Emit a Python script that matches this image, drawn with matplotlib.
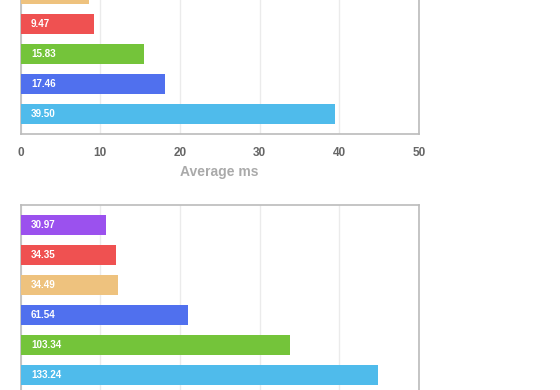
import matplotlib
matplotlib.use("Agg")
import matplotlib.pyplot as plt

# top panel (Average ms), bottom to top; bar lengths as drawn, labels as printed
top_values = [39.4, 18.1, 15.47, 9.18, 8.55]
top_labels = ['39.50', '17.46', '15.83', '9.47', '']
top_colors = ['#4fbbeb', '#5070ee', '#74c43a', '#ef5151', '#eec27e']

# bottom panel, bottom to top
bot_values = [134.4, 101.3, 63.0, 36.7, 35.9, 32.1]
bot_labels = ['133.24', '103.34', '61.54', '34.49', '34.35', '30.97']
bot_colors = ['#4fbbeb', '#74c43a', '#5070ee', '#eec27e', '#ef5151', '#9b51ee']

plt.rcParams['font.family'] = ['Liberation Sans', 'DejaVu Sans']

W, H = 560, 390
fig = plt.figure(figsize=(W / 100, H / 100), dpi=100)

def panel(rect, values, colors, labels, xmax, step, xlabel=None, ticklabels=True):
    ax = fig.add_axes(rect)
    n = 6
    ys = list(range(len(values)))
    ax.barh(ys, values, height=2 / 3, color=colors, zorder=3)
    px = xmax / (rect[2] * W)
    for y, lab in zip(ys, labels):
        ax.text(10.5 * px, y, lab, color='white', fontsize=7.1, fontweight='bold',
                va='center', ha='left', zorder=4)
    ax.set_xlim(0, xmax)
    ax.set_ylim(-2 / 3, n - 1 + 2 / 3)
    ax.set_xticks(range(0, xmax + 1, step))
    ax.set_yticks([])
    ax.grid(axis='x', color='#ebebeb', linewidth=1, zorder=0)
    for s in ax.spines.values():
        s.set_color('#bbbbbb')
        s.set_linewidth(1.2)
    ax.tick_params(axis='x', length=0, pad=9, labelsize=8.5, labelcolor='#666666',
                   labelbottom=ticklabels)
    for t in ax.get_xticklabels():
        t.set_fontweight('bold')
    if xlabel:
        ax.set_xlabel(xlabel, fontsize=10, color='#aaaaaa', fontweight='bold', labelpad=5)
    return ax

hgt = 190 / H
left = 20.5 / W
wid = 398.5 / W
panel([left, (H - 134) / H, wid, hgt], top_values, top_colors, top_labels, 50, 10, 'Average ms')
panel([left, (H - 395.3) / H, wid, hgt], bot_values, bot_colors, bot_labels, 150, 30,
      ticklabels=False)

fig.savefig('out.png', dpi=100)
